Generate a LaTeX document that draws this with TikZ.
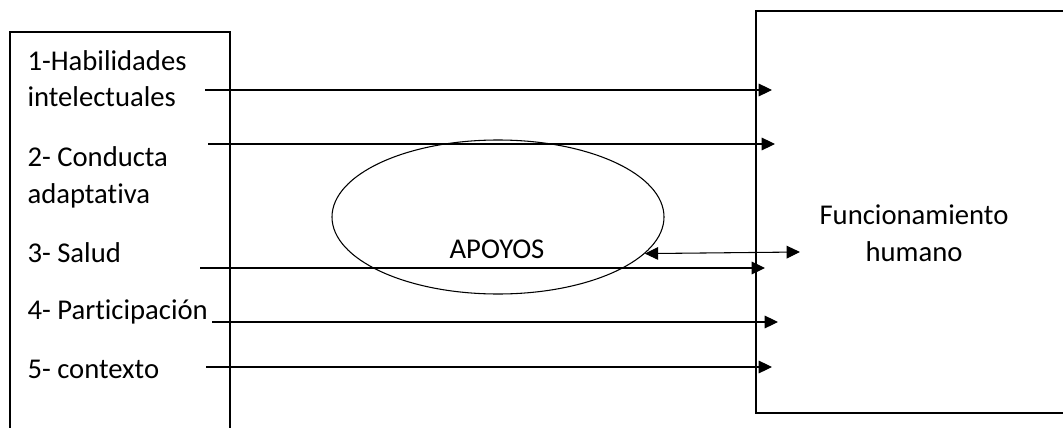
\documentclass[tikz,border=0pt]{standalone}
\usepackage{fontspec}
\setmainfont{Carlito}[Ligatures={NoCommon,NoContextual}]
\usepackage{tikz}
\usetikzlibrary{arrows.meta,shapes.geometric}

\tikzset{
  lbl/.style={inner sep=0pt,font=\fontsize{21.5}{27.75}\selectfont},
  flecha/.style={line width=0.8pt,-{Triangle[length=10pt,width=9.5pt]}},
  dobleflecha/.style={line width=0.8pt,{Triangle[length=10pt,width=9.5pt]}-{Triangle[length=10pt,width=9.5pt]}},
}

\begin{document}
\begin{tikzpicture}[x=0.75pt,y=-0.75pt,line width=0.8pt]
  \useasboundingbox (0,0) rectangle (1063,428);

  % left box (bottom edge cut off)
  \draw (10,428) -- (10,32) -- (230,32) -- (230,428);
  % right box (right edge cut off)
  \draw (1063,11) -- (756,11) -- (756,413) -- (1063,413);

  % dimensions (base anchor = last line)
  \node[lbl,anchor=base west,align=left] (hab) at (27,107) {1-Habilidades\\intelectuales};
  \node[lbl,anchor=base west,align=left] (cond) at (27,203) {2- Conducta\\adaptativa};
  \node[lbl,anchor=base west] (salud) at (27,262) {3- Salud};
  \node[lbl,anchor=base west] (part) at (27,319) {4- Participación};
  \node[lbl,anchor=base west] (ctx) at (27,378) {5- contexto};

  % supports
  \node[draw,ellipse,minimum width=249pt,minimum height=115.5pt] (apoyos) at (498,217) {};
  \node[lbl,anchor=base] (apoyostxt) at (497,258) {APOYOS};

  % outcome
  \node[lbl,anchor=base,align=center] (func) at (914,261) {Funcionamiento\\humano};

  % arrow ends
  \coordinate (s1) at (205,90);  \coordinate (e1) at (772,90);
  \coordinate (s2) at (208,144); \coordinate (e2) at (775,144);
  \coordinate (s3) at (200,268); \coordinate (e3) at (765,268);
  \coordinate (s4) at (212,322); \coordinate (e4) at (778,322);
  \coordinate (s5) at (206,367); \coordinate (e5) at (772,367);
  \coordinate (e6) at (800,252);

  \draw[flecha] (s1) -- (e1);
  \draw[flecha] (s2) -- (e2);
  \draw[flecha] (s3) -- (e3);
  \draw[flecha] (s4) -- (e4);
  \draw[flecha] (s5) -- (e5);
  \draw[dobleflecha] (apoyos.-14) -- (e6);
\end{tikzpicture}
\end{document}
